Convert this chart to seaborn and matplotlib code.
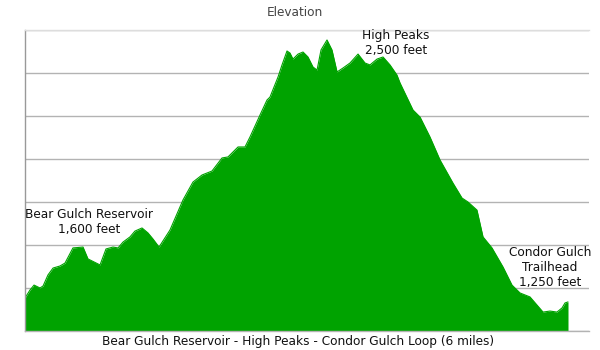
import matplotlib
matplotlib.use("Agg")
import matplotlib.pyplot as plt
import seaborn as sns
import pandas as pd

# Trail distance (miles) and elevation (feet)
distance = [0.00, 0.055, 0.10, 0.166, 0.20, 0.254, 0.31, 0.387, 0.442, 0.53,
            0.641, 0.696, 0.829, 0.895, 0.972, 1.028, 1.083, 1.16, 1.215, 1.293,
            1.359, 1.414, 1.481, 1.602, 1.746, 1.856, 1.956, 2.066, 2.177, 2.243,
            2.354, 2.431, 2.486, 2.597, 2.674, 2.707, 2.796, 2.840, 2.895, 2.928,
            2.961, 3.017, 3.072, 3.127, 3.182, 3.227, 3.271, 3.337, 3.392, 3.448,
            3.514, 3.591, 3.680, 3.757, 3.812, 3.890, 3.956, 4.033, 4.110, 4.144,
            4.287, 4.365, 4.475, 4.586, 4.729, 4.829, 4.895, 4.994, 5.061, 5.160,
            5.282, 5.381, 5.470, 5.580, 5.657, 5.724, 5.801, 5.878, 5.934, 5.967,
            6.000]
elevation = [1192, 1238, 1267, 1250, 1262, 1326, 1366, 1378, 1395, 1483,
             1488, 1419, 1384, 1477, 1488, 1483, 1517, 1547, 1581, 1599,
             1570, 1535, 1488, 1587, 1762, 1866, 1907, 1930, 2006, 2012,
             2070, 2070, 2128, 2256, 2343, 2360, 2477, 2547, 2628, 2616,
             2581, 2610, 2622, 2593, 2535, 2517, 2634, 2692, 2634, 2506,
             2529, 2558, 2610, 2558, 2547, 2581, 2593, 2547, 2488, 2442,
             2285, 2244, 2128, 1994, 1860, 1773, 1750, 1703, 1547, 1483,
             1372, 1267, 1221, 1198, 1151, 1110, 1116, 1110, 1134, 1163,
             1169]

annotations = ["Bear Gulch Reservoir\n1,600 feet",
               "High Peaks\n2,500 feet",
               "Condor Gulch\nTrailhead\n1,250 feet"]
annot_x = [0.707, 4.10, 5.80]
annot_y = [1634, 2674, 1372]

title = "Elevation"
xlabel = "Bear Gulch Reservoir - High Peaks - Condor Gulch Loop (6 miles)"
y_ticks = [1000, 1250, 1500, 1750, 2000, 2250, 2500, 2750]

df = pd.DataFrame({"distance": distance, "elevation": elevation})

sns.set_style("white")
plt.rcParams['font.family'] = ['DejaVu Sans']

fig = plt.figure(figsize=(6, 3.5), dpi=100)
ax = fig.add_axes([25/600, 1 - 331/350, (589 - 25)/600, (331 - 30)/350])

green = "#00a300"
sns.lineplot(data=df, x="distance", y="elevation", ax=ax, color=green, linewidth=0.8)
ax.fill_between(df["distance"], df["elevation"], y_ticks[0], color=green, linewidth=0, zorder=2)

ax.set_xlim(0, 6.232)
ax.set_ylim(y_ticks[0], y_ticks[-1])
ax.set_yticks(y_ticks)
ax.set_xticks([])
ax.tick_params(axis="y", length=0, labelleft=False)
ax.yaxis.grid(True, color="#b3b3b3", linewidth=1)
ax.set_axisbelow(True)

ax.spines["right"].set_visible(False)
ax.spines["top"].set_color("#dddddd")
ax.spines["left"].set_color("#999999")
ax.spines["bottom"].set_color("#b3b3b3")
for s in ["top", "left", "bottom"]:
    ax.spines[s].set_linewidth(1)

ax.set_ylabel("")
ax.set_xlabel(xlabel, fontsize=8.7, color="#111111")
ax.xaxis.set_label_coords((298 - 25) / 564, -4 / 301, transform=ax.transAxes)
ax.xaxis.label.set_va("top")
fig.text(295 / 600, 1 - 12 / 350, title, fontsize=8.7, color="#444444",
         ha="center", va="center")

for txt, tx, ty in zip(annotations, annot_x, annot_y):
    ax.text(tx, ty, txt, ha="center", va="center", fontsize=8.7,
            color="#111111", linespacing=1.2, zorder=5, clip_on=False)

fig.savefig("out.png", dpi=100)
